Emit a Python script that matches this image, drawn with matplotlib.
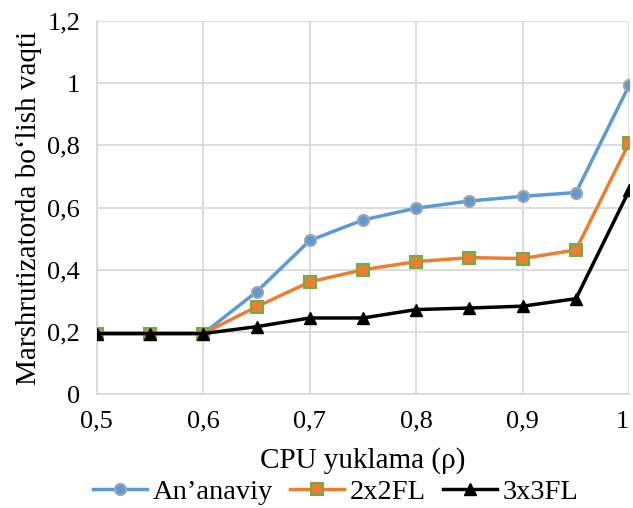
import matplotlib.pyplot as plt
from matplotlib.ticker import FuncFormatter, MultipleLocator

# --- data ---
load = [0.5, 0.55, 0.6, 0.65, 0.7, 0.75, 0.8, 0.85, 0.9, 0.95, 1.0]
ananaviy = [0.195, 0.195, 0.195, 0.329, 0.494, 0.560, 0.598, 0.621, 0.636, 0.648, 0.993]
fl2x2 = [0.195, 0.195, 0.195, 0.281, 0.361, 0.400, 0.426, 0.439, 0.436, 0.464, 0.808]
fl3x3 = [0.195, 0.195, 0.195, 0.217, 0.245, 0.245, 0.272, 0.277, 0.283, 0.307, 0.655]

plt.rcParams['font.family'] = ['Liberation Serif', 'DejaVu Serif']

fig = plt.figure(figsize=(6.33, 5.08), dpi=100)
ax = fig.add_axes([0.153, 0.224, 0.841, 0.735])

ax.plot(load, ananaviy, color='#5B9BD5', lw=2.5, marker='o', ms=8,
        mfc='#5B9BD5', mec='#A5A5A5', mew=1.5, label='An\u2019anaviy', zorder=3)
ax.plot(load, fl2x2, color='#ED7D31', lw=2.5, marker='s', ms=8,
        mfc='#ED7D31', mec='#70AD47', mew=1.5, label='2x2FL', zorder=4)
ax.plot(load, fl3x3, color='black', lw=2.5, marker='^', ms=9,
        mfc='black', mec='black', label='3x3FL', zorder=5)

ax.set_xlim(0.5, 1.0)
ax.set_ylim(0, 1.2)
ax.xaxis.set_major_locator(MultipleLocator(0.1))
ax.yaxis.set_major_locator(MultipleLocator(0.2))

def comma(v, pos):
    s = f"{v:.1f}"
    if s.endswith('.0'):
        s = s[:-2]
    return s.replace('.', ',')

ax.xaxis.set_major_formatter(FuncFormatter(comma))
ax.yaxis.set_major_formatter(FuncFormatter(comma))

ax.grid(True, color='#D9D9D9', lw=1.3)
ax.set_axisbelow(True)
for s in ['top', 'right']:
    ax.spines[s].set_visible(False)
for s in ['left', 'bottom']:
    ax.spines[s].set_color('#D9D9D9')
    ax.spines[s].set_linewidth(1.3)
ax.tick_params(length=0, labelsize=19, pad=12)

ax.set_xlabel('CPU yuklama (\u03c1)', fontsize=21, labelpad=10)
ax.set_ylabel('Marshrutizatorda bo\u2018lish vaqti', fontsize=21, labelpad=4)

fig.legend(loc='lower center', bbox_to_anchor=(0.53, -0.045), ncol=3, frameon=False,
           fontsize=20.5, handlelength=1.9, columnspacing=0.6, handletextpad=0.2)

# keep the "1" at the right edge inside the picture
fig.canvas.draw()
for lab in ax.get_xticklabels():
    if lab.get_text() == '1':
        lab.set_horizontalalignment('right')

fig.savefig('out.png', dpi=100)
